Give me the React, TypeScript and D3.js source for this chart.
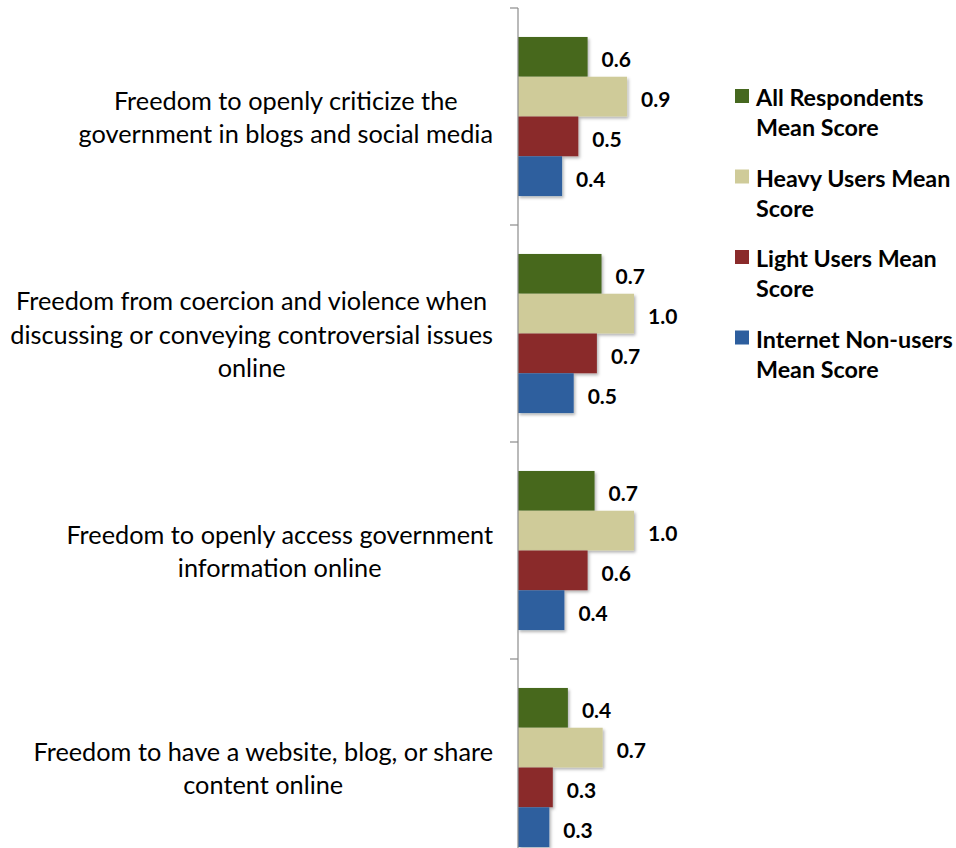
import React, { useEffect, useRef } from "react";
import * as d3 from "d3";

const categoryLines: string[][] = [
  ["Freedom to openly criticize the", "government in blogs and social media"],
  ["Freedom from coercion and violence when", "discussing or conveying controversial issues", "online"],
  ["Freedom to openly access government", "information online"],
  ["Freedom to have a website, blog, or share", "content online"],
];
const categories = categoryLines.map((l) => l.join(" "));

const seriesNames = [
  "All Respondents Mean Score",
  "Heavy Users Mean Score",
  "Light Users Mean Score",
  "Internet Non-users Mean Score",
];
const legendLines: string[][] = [
  ["All Respondents", "Mean Score"],
  ["Heavy Users Mean", "Score"],
  ["Light Users Mean", "Score"],
  ["Internet Non-users", "Mean Score"],
];
const seriesColors = ["#46681F", "#CFCB99", "#8A2B2B", "#2D5E9E"];

const allRespondents = [0.6, 0.72, 0.66, 0.43];
const heavyUsers = [0.94, 1.0, 1.0, 0.73];
const lightUsers = [0.52, 0.68, 0.6, 0.3];
const nonUsers = [0.38, 0.48, 0.4, 0.27];
const seriesValues = [allRespondents, heavyUsers, lightUsers, nonUsers];

const W = 956;
const H = 848;
const FONT = "Lato, 'Open Sans', sans-serif";

export default function App() {
  const ref = useRef<SVGSVGElement>(null);

  useEffect(() => {
    const svg = d3.select(ref.current);
    svg.selectAll("*").remove();

    const axisX = 518;
    const y = d3
      .scaleBand<string>()
      .domain(categories)
      .range([8, 876])
      .paddingInner(0.267)
      .paddingOuter(0.1335);
    const ySeries = d3
      .scaleBand<string>()
      .domain(seriesNames)
      .range([0, y.bandwidth()])
      .padding(0);
    const x = d3.scaleLinear().domain([0, 1]).range([axisX, axisX + 116]);

    const defs = svg.append("defs");
    const f = defs
      .append("filter")
      .attr("id", "sh")
      .attr("x", "-10%")
      .attr("y", "-10%")
      .attr("width", "130%")
      .attr("height", "140%");
    f.append("feDropShadow")
      .attr("dx", 1.5)
      .attr("dy", 2)
      .attr("stdDeviation", 1.5)
      .attr("flood-color", "#000")
      .attr("flood-opacity", 0.3);

    // bars
    categories.forEach((cat, ci) => {
      const g = svg.append("g").attr("transform", `translate(0,${y(cat)})`);
      seriesNames.forEach((s, si) => {
        const v = seriesValues[si][ci];
        g.append("rect")
          .attr("x", x(0))
          .attr("y", ySeries(s)!)
          .attr("width", x(v) - x(0))
          .attr("height", ySeries.bandwidth())
          .attr("fill", seriesColors[si])
          .attr("filter", "url(#sh)");
        g.append("text")
          .attr("x", x(v) + 14)
          .attr("y", ySeries(s)! + ySeries.bandwidth() / 2 + 2)
          .attr("dominant-baseline", "central")
          .attr("font-family", FONT)
          .attr("font-weight", 700)
          .attr("font-size", 21)
          .attr("fill", "#000")
          .text(d3.format(".1f")(v));
      });
    });

    // axis
    const step = y.step();
    const tickYs = d3.range(0, categories.length + 1).map((i) => 8 + i * step);
    svg
      .append("line")
      .attr("x1", axisX)
      .attr("x2", axisX)
      .attr("y1", 8)
      .attr("y2", H + 10)
      .attr("stroke", "#8c8c8c")
      .attr("stroke-width", 1.2);
    svg
      .selectAll("line.tick")
      .data(tickYs)
      .join("line")
      .attr("class", "tick")
      .attr("x1", axisX - 8)
      .attr("x2", axisX)
      .attr("y1", (d) => d)
      .attr("y2", (d) => d)
      .attr("stroke", "#8c8c8c")
      .attr("stroke-width", 1.2);

    // category labels
    const rightEdge = 493;
    const lineH = 33.5;
    categories.forEach((cat, ci) => {
      const lines = categoryLines[ci];
      const cy = y(cat)! + y.bandwidth() / 2;
      const tg = svg.append("g");
      const texts = lines.map((ln, li) =>
        tg
          .append("text")
          .attr("y", cy + (li - (lines.length - 1) / 2) * lineH)
          .attr("dominant-baseline", "central")
          .attr("text-anchor", "middle")
          .attr("font-family", FONT)
          .attr("font-size", 25.3)
          .attr("fill", "#000")
          .text(ln)
      );
      const widths = texts.map((t) => (t.node() as SVGTextElement).getComputedTextLength());
      const maxW = d3.max(widths) || 0;
      const cx = rightEdge - maxW / 2;
      texts.forEach((t) => t.attr("x", cx));
    });

    // legend
    const lg = svg.append("g");
    legendLines.forEach((lines, i) => {
      const top = 89 + i * 80.5;
      lg.append("rect")
        .attr("x", 735)
        .attr("y", top)
        .attr("width", 14)
        .attr("height", 14)
        .attr("fill", seriesColors[i]);
      lines.forEach((ln, li) => {
        lg.append("text")
          .attr("x", 756)
          .attr("y", top + 8 + li * 30)
          .attr("dominant-baseline", "central")
          .attr("font-family", FONT)
          .attr("font-weight", 700)
          .attr("font-size", 23.3)
          .attr("fill", "#000")
          .text(ln);
      });
    });
  }, []);

  return (
    <svg
      ref={ref}
      width={W}
      height={H}
      style={{ position: "absolute", left: 0, top: 0, background: "#fff", display: "block" }}
    />
  );
}
